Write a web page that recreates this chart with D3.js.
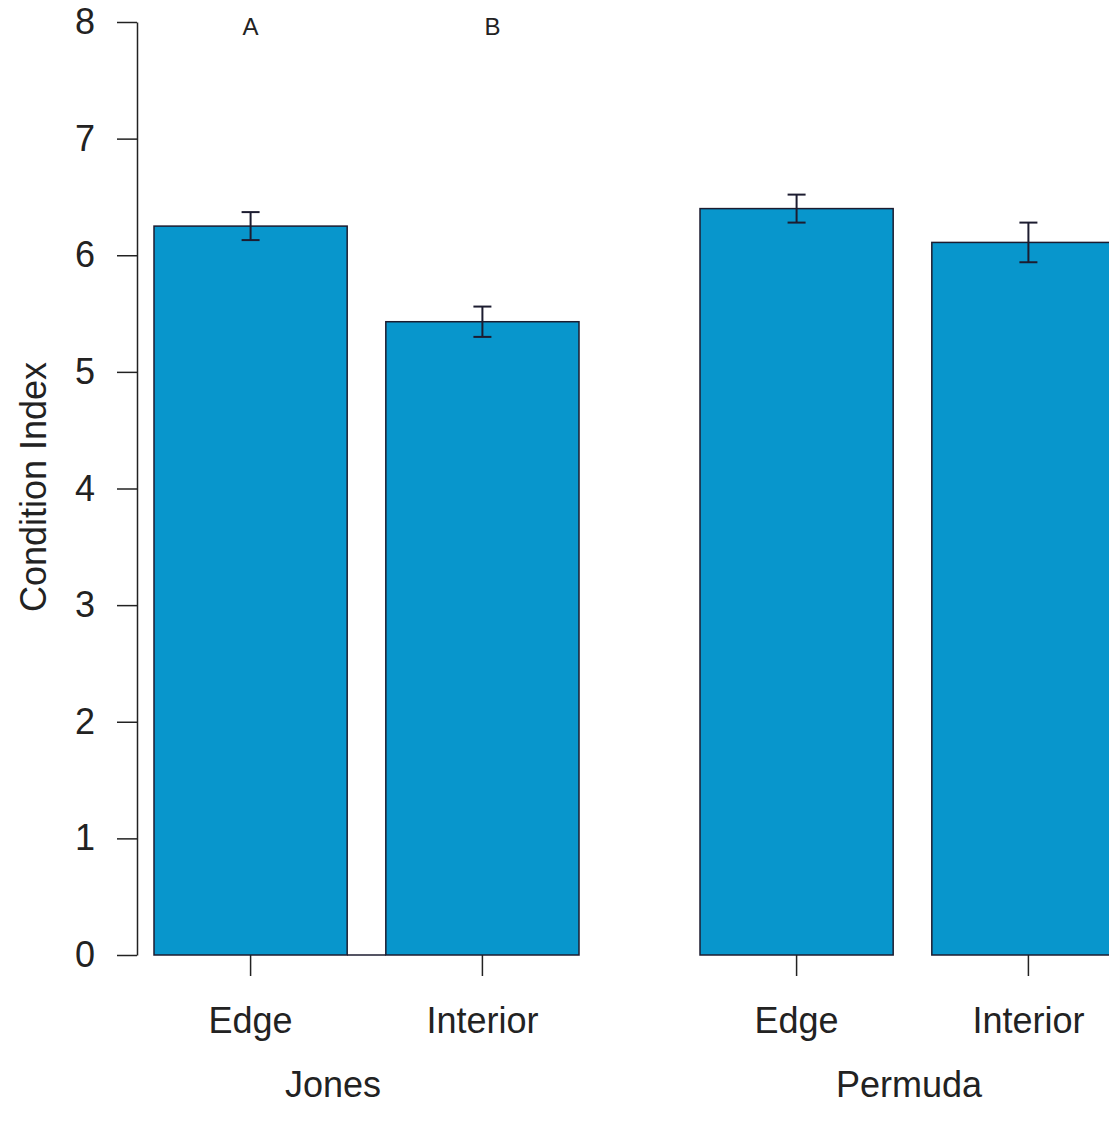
<!DOCTYPE html>
<html>
<head>
<meta charset="utf-8">
<title>Condition Index</title>
<style>
  body { margin: 0; background: #fff; }
  svg { display: block; font-family: "Liberation Sans", Arial, sans-serif; }
  .axis text { fill: #222; }
  .axis line, .axis path { stroke: #222; stroke-width: 1.5; }
</style>
</head>
<body>
<div id="chart"></div>
<script src="https://cdn.jsdelivr.net/npm/d3@7"></script>
<script>
(function(d3) {
  'use strict';

  // data
  var sites = ['Jones', 'Permuda'];
  var positions = ['Edge', 'Interior'];
  var jonesMeans = [6.25, 5.43];
  var jonesSE = [0.12, 0.13];
  var permudaMeans = [6.40, 6.11];
  var permudaSE = [0.12, 0.17];
  var letters = ['A', 'B'];            // group letters over the Jones bars
  var yTicks = [0, 1, 2, 3, 4, 5, 6, 7, 8];

  var width = 1109;
  var height = 1130;
  var barColor = '#0896cc';
  var edgeColor = '#1c1c30';

  var svg = d3.select('#chart')
    .append('svg')
    .attr('width', width)
    .attr('height', height);

  var y = d3.scaleLinear().domain([0, 8]).range([955, 22]);

  // one panel per site
  var panels = [
    { means: jonesMeans, se: jonesSE, range: [154, 579], labelX: 333, joinBase: true },
    { means: permudaMeans, se: permudaSE, range: [700, 1125], labelX: 909, joinBase: false }
  ];

  panels.forEach(function(p, pi) {
    var x = d3.scaleBand()
      .domain(positions)
      .range(p.range)
      .paddingInner(0.1667)
      .paddingOuter(0);
    var bw = x.bandwidth();
    var g = svg.append('g');

    var rows = positions.map(function(pos, i) {
      return { pos: pos, mean: p.means[i], se: p.se[i] };
    });

    g.selectAll('rect')
      .data(rows)
      .enter()
      .append('rect')
      .attr('x', function(d) { return x(d.pos); })
      .attr('y', function(d) { return y(d.mean); })
      .attr('width', bw)
      .attr('height', function(d) { return y(0) - y(d.mean); })
      .attr('fill', barColor)
      .attr('stroke', edgeColor)
      .attr('stroke-width', 1.5);

    // error bars
    var eb = g.selectAll('.err')
      .data(rows)
      .enter()
      .append('g')
      .attr('class', 'err')
      .attr('stroke', edgeColor)
      .attr('stroke-width', 2);
    eb.append('line')
      .attr('x1', function(d) { return x(d.pos) + bw / 2; })
      .attr('x2', function(d) { return x(d.pos) + bw / 2; })
      .attr('y1', function(d) { return y(d.mean + d.se); })
      .attr('y2', function(d) { return y(d.mean - d.se); });
    [1, -1].forEach(function(s) {
      eb.append('line')
        .attr('x1', function(d) { return x(d.pos) + bw / 2 - 9; })
        .attr('x2', function(d) { return x(d.pos) + bw / 2 + 9; })
        .attr('y1', function(d) { return y(d.mean + s * d.se); })
        .attr('y2', function(d) { return y(d.mean + s * d.se); });
    });

    if (p.joinBase) {
      g.append('line')
        .attr('x1', x(positions[0]) + bw)
        .attr('x2', x(positions[1]))
        .attr('y1', y(0))
        .attr('y2', y(0))
        .attr('stroke', edgeColor)
        .attr('stroke-width', 1.5);

      g.selectAll('.letter')
        .data(letters)
        .enter()
        .append('text')
        .attr('class', 'letter')
        .attr('x', function(d, i) { return x(positions[i]) + bw / 2 + (i === 1 ? 10 : 0); })
        .attr('y', 35)
        .attr('text-anchor', 'middle')
        .attr('font-size', 24)
        .attr('fill', '#222')
        .text(function(d) { return d; });
    }

    var xAxis = g.append('g')
      .attr('class', 'axis')
      .attr('transform', 'translate(0,' + y(0) + ')')
      .call(d3.axisBottom(x).tickSize(21).tickPadding(31));
    xAxis.select('.domain').remove();
    xAxis.selectAll('text').attr('font-size', 36);

    g.append('text')
      .attr('x', p.labelX)
      .attr('y', 1097)
      .attr('text-anchor', 'middle')
      .attr('font-size', 36)
      .attr('fill', '#222')
      .text(sites[pi]);
  });

  var yAxis = svg.append('g')
    .attr('class', 'axis')
    .attr('transform', 'translate(137,0)')
    .call(d3.axisLeft(y).tickValues(yTicks).tickSize(20).tickPadding(22).tickSizeOuter(0));
  yAxis.selectAll('text').attr('font-size', 36);

  svg.append('text')
    .attr('transform', 'translate(46,487) rotate(-90)')
    .attr('text-anchor', 'middle')
    .attr('font-size', 36)
    .attr('fill', '#222')
    .text('Condition Index');

})(window.d3);
</script>
</body>
</html>
